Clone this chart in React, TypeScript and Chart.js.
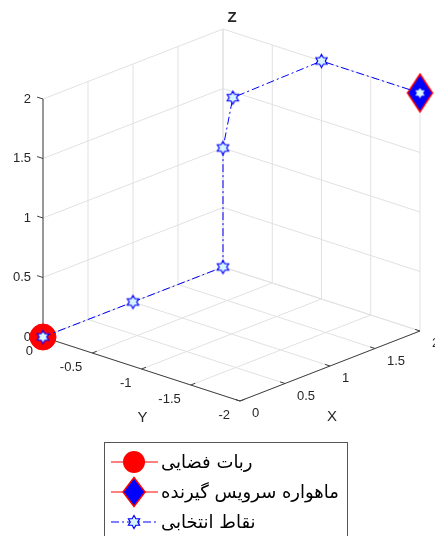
import React, { useEffect, useRef } from 'react';
import { Chart, registerables } from 'chart.js';

Chart.register(...registerables);

// ---------- data ----------
const X_TICKS = [0, 0.5, 1, 1.5, 2];
const Y_TICKS = [-2, -1.5, -1, -0.5, 0];
const Z_TICKS = [0, 0.5, 1, 1.5, 2];
const X_TICK_LABELS = ['0', '0.5', '1', '1.5', '2'];
const Y_TICK_LABELS = ['-2', '-1.5', '-1', '-0.5', '0'];
const Z_TICK_LABELS = ['0', '0.5', '1', '1.5', '2'];

const ROBOT_X = [0];
const ROBOT_Y = [0];
const ROBOT_Z = [0];

const SAT_X = [2];
const SAT_Y = [-2];
const SAT_Z = [2];

const PATH_X = [0, 1, 2, 2, 2, 2, 2];
const PATH_Y = [0, 0, 0, 0, -0.1, -1, -2];
const PATH_Z = [0, 0, 0, 1, 1.45, 2, 2];

const SERIES_NAMES = ['ربات فضایی', 'ماهواره سرویس گیرنده', 'نقاط انتخابی'];
const AXIS_TITLES = { x: 'X', y: 'Y', z: 'Z' };

// ---------- view (orthographic projection of the 3D box) ----------
const LIM = { x: [0, 2], y: [-2, 0], z: [0, 2] };
const VIEW = {
  origin: [240, 401], // screen position of (xmin, ymin, zmin)
  ax: [180, -70], // full x range
  ay: [-197, -64], // full y range
  az: [0, -238], // full z range
};

function project(x: number, y: number, z: number) {
  const nx = (x - LIM.x[0]) / (LIM.x[1] - LIM.x[0]);
  const ny = (y - LIM.y[0]) / (LIM.y[1] - LIM.y[0]);
  const nz = (z - LIM.z[0]) / (LIM.z[1] - LIM.z[0]);
  return {
    x: VIEW.origin[0] + nx * VIEW.ax[0] + ny * VIEW.ay[0] + nz * VIEW.az[0],
    y: VIEW.origin[1] + nx * VIEW.ax[1] + ny * VIEW.ay[1] + nz * VIEW.az[1],
  };
}

function toPoints(xs: number[], ys: number[], zs: number[]) {
  return xs.map((x, i) => project(x, ys[i], zs[i]));
}

const BLUE = '#0000ff';
const RED = '#ff0000';
const STAR_FACE = '#d8f4ff';
const GRID = '#e1e1e1';
const AXIS = '#404040';
const TEXT = '#262626';
const TICK_FONT = '13px "Liberation Sans", Arial, sans-serif';
const LEGEND_FONT = '18px "DejaVu Sans", sans-serif';

function hexagramPath(ctx: CanvasRenderingContext2D, cx: number, cy: number, r: number) {
  ctx.beginPath();
  for (let i = 0; i < 12; i++) {
    const a = ((-90 + i * 30) * Math.PI) / 180;
    const rr = i % 2 === 0 ? r : r / Math.sqrt(3);
    const px = cx + rr * Math.cos(a);
    const py = cy + rr * Math.sin(a);
    if (i === 0) ctx.moveTo(px, py);
    else ctx.lineTo(px, py);
  }
  ctx.closePath();
}

function diamondPath(ctx: CanvasRenderingContext2D, cx: number, cy: number, w: number, h: number) {
  ctx.beginPath();
  ctx.moveTo(cx, cy - h / 2);
  ctx.lineTo(cx + w / 2, cy);
  ctx.lineTo(cx, cy + h / 2);
  ctx.lineTo(cx - w / 2, cy);
  ctx.closePath();
}

function makeHexagram(r: number) {
  const c = document.createElement('canvas');
  c.width = Math.ceil(2 * r + 4);
  c.height = Math.ceil(2 * r + 4);
  const ctx = c.getContext('2d')!;
  hexagramPath(ctx, c.width / 2, c.height / 2, r);
  ctx.fillStyle = STAR_FACE;
  ctx.fill();
  ctx.strokeStyle = BLUE;
  ctx.lineWidth = 1.2;
  ctx.stroke();
  return c;
}

function makeDiamond(w: number, h: number) {
  const c = document.createElement('canvas');
  c.width = Math.ceil(w + 4);
  c.height = Math.ceil(h + 4);
  const ctx = c.getContext('2d')!;
  diamondPath(ctx, c.width / 2, c.height / 2, w, h);
  ctx.fillStyle = BLUE;
  ctx.fill();
  ctx.strokeStyle = RED;
  ctx.lineWidth = 1.5;
  ctx.stroke();
  return c;
}

const box3dPlugin = {
  id: 'box3d',
  beforeDatasetsDraw(chart: any) {
    const ctx: CanvasRenderingContext2D = chart.ctx;
    const sx = chart.scales.x;
    const sy = chart.scales.y;
    const P = (x: number, y: number, z: number) => {
      const p = project(x, y, z);
      return [sx.getPixelForValue(p.x), sy.getPixelForValue(p.y)];
    };
    const seg = (a: number[], b: number[]) => {
      ctx.beginPath();
      ctx.moveTo(a[0], a[1]);
      ctx.lineTo(b[0], b[1]);
      ctx.stroke();
    };
    const [x0, x1] = LIM.x;
    const [y0, y1] = LIM.y;
    const [z0, z1] = LIM.z;
    ctx.save();
    ctx.lineWidth = 1;
    ctx.strokeStyle = GRID;
    // floor
    X_TICKS.forEach((t) => seg(P(t, y0, z0), P(t, y1, z0)));
    Y_TICKS.forEach((t) => seg(P(x0, t, z0), P(x1, t, z0)));
    // back wall x = xmax
    Y_TICKS.forEach((t) => seg(P(x1, t, z0), P(x1, t, z1)));
    Z_TICKS.forEach((t) => seg(P(x1, y0, t), P(x1, y1, t)));
    // back wall y = ymax
    X_TICKS.forEach((t) => seg(P(t, y1, z0), P(t, y1, z1)));
    Z_TICKS.forEach((t) => seg(P(x0, y1, t), P(x1, y1, t)));

    // axes
    ctx.strokeStyle = AXIS;
    seg(P(x0, y0, z0), P(x1, y0, z0));
    seg(P(x0, y0, z0), P(x0, y1, z0));
    seg(P(x0, y1, z0), P(x0, y1, z1));
    // ticks
    X_TICKS.forEach((t) => seg(P(t, y0, z0), P(t, y0 + 0.05, z0)));
    Y_TICKS.forEach((t) => seg(P(x0, t, z0), P(x0 + 0.05, t, z0)));
    Z_TICKS.forEach((t) => seg(P(x0, y1, t), P(x0, y1 + 0.06, t)));

    // tick labels
    ctx.fillStyle = TEXT;
    ctx.font = TICK_FONT;
    ctx.textBaseline = 'middle';
    ctx.textAlign = 'left';
    X_TICKS.forEach((t, i) => {
      const p = P(t, y0, z0);
      ctx.fillText(X_TICK_LABELS[i], p[0] + 12, p[1] + 12.5);
    });
    ctx.textAlign = 'right';
    Y_TICKS.forEach((t, i) => {
      const p = P(x0, t, z0);
      ctx.fillText(Y_TICK_LABELS[i], p[0] - 10, p[1] + 14);
    });
    Z_TICKS.forEach((t, i) => {
      const p = P(x0, y1, t);
      ctx.fillText(Z_TICK_LABELS[i], p[0] - 12, p[1]);
    });

    // axis titles
    ctx.textAlign = 'center';
    ctx.font = '15px "Liberation Sans", Arial, sans-serif';
    const py = P(x0, (y0 + y1) / 2, z0);
    ctx.fillText(AXIS_TITLES.y, py[0] + 1, py[1] + 49);
    const px = P((x0 + x1) / 2, y0, z0);
    ctx.fillText(AXIS_TITLES.x, px[0] + 2, px[1] + 51);
    ctx.font = 'bold 15px "Liberation Sans", Arial, sans-serif';
    const pz = P(x1, y1, z1);
    ctx.fillText(AXIS_TITLES.z, pz[0] + 9, pz[1] - 11);
    ctx.restore();
  },
  afterDraw(chart: any) {
    const ctx: CanvasRenderingContext2D = chart.ctx;
    ctx.save();
    const left = 104.5;
    const top = 442.5;
    const right = 347.5;
    ctx.fillStyle = '#ffffff';
    ctx.fillRect(left, top, right - left, 120);
    ctx.strokeStyle = '#555555';
    ctx.lineWidth = 1;
    ctx.strokeRect(left, top, right - left, 120);

    const rows = [462, 492, 522];
    const lx0 = 111;
    const lx1 = 158;
    const mx = 134;
    // row 1: robot
    ctx.strokeStyle = RED;
    ctx.lineWidth = 1;
    ctx.beginPath();
    ctx.moveTo(lx0, rows[0]);
    ctx.lineTo(lx1, rows[0]);
    ctx.stroke();
    ctx.beginPath();
    ctx.arc(mx, rows[0], 11, 0, Math.PI * 2);
    ctx.fillStyle = RED;
    ctx.fill();
    // row 2: satellite
    ctx.beginPath();
    ctx.moveTo(lx0, rows[1]);
    ctx.lineTo(lx1, rows[1]);
    ctx.stroke();
    diamondPath(ctx, mx, rows[1], 22, 29);
    ctx.fillStyle = BLUE;
    ctx.fill();
    ctx.lineWidth = 1.5;
    ctx.strokeStyle = RED;
    ctx.stroke();
    // row 3: path
    ctx.strokeStyle = BLUE;
    ctx.lineWidth = 1;
    ctx.setLineDash([8, 3, 2, 3]);
    ctx.beginPath();
    ctx.moveTo(lx0, rows[2]);
    ctx.lineTo(lx1, rows[2]);
    ctx.stroke();
    ctx.setLineDash([]);
    hexagramPath(ctx, mx, rows[2], 6.5);
    ctx.fillStyle = STAR_FACE;
    ctx.fill();
    ctx.lineWidth = 1.2;
    ctx.stroke();

    // texts
    ctx.fillStyle = '#000000';
    ctx.font = LEGEND_FONT;
    ctx.textBaseline = 'middle';
    ctx.textAlign = 'left';
    SERIES_NAMES.forEach((s, i) => {
      ctx.fillText(s, 161, rows[i] + 1);
    });
    ctx.restore();
  },
};

export default function App() {
  const ref = useRef<HTMLCanvasElement | null>(null);
  useEffect(() => {
    if (!ref.current) return;
    const star = makeHexagram(6.5);
    const diamond = makeDiamond(25, 38);
    const chart = new Chart(ref.current, {
      type: 'scatter',
      data: {
        datasets: [
          {
            label: SERIES_NAMES[2],
            data: toPoints(PATH_X, PATH_Y, PATH_Z),
            showLine: true,
            borderColor: BLUE,
            borderWidth: 1,
            borderDash: [8, 3, 2, 3],
            pointStyle: star as any,
            pointRadius: 6,
            order: 0,
          },
          {
            label: SERIES_NAMES[1],
            data: toPoints(SAT_X, SAT_Y, SAT_Z),
            pointStyle: diamond as any,
            pointRadius: 12,
            order: 1,
          },
          {
            label: SERIES_NAMES[0],
            data: toPoints(ROBOT_X, ROBOT_Y, ROBOT_Z),
            pointStyle: 'circle',
            pointRadius: 13,
            backgroundColor: RED,
            borderColor: RED,
            borderWidth: 1,
            order: 2,
          },
        ],
      },
      options: {
        animation: false,
        responsive: false,
        devicePixelRatio: 1,
        events: [],
        layout: { padding: 0, autoPadding: false } as any,
        plugins: {
          legend: { display: false },
          tooltip: { enabled: false },
          title: { display: false },
        },
        scales: {
          x: { type: 'linear', min: 0, max: 435, display: false },
          y: { type: 'linear', min: 0, max: 536, reverse: true, display: false },
        },
      },
      plugins: [box3dPlugin],
    });
    return () => chart.destroy();
  }, []);
  return (
    <div style={{ position: 'absolute', left: 0, top: 0, width: 435, height: 536, background: '#fff' }}>
      <canvas ref={ref} width={435} height={536} style={{ display: 'block' }} />
    </div>
  );
}
